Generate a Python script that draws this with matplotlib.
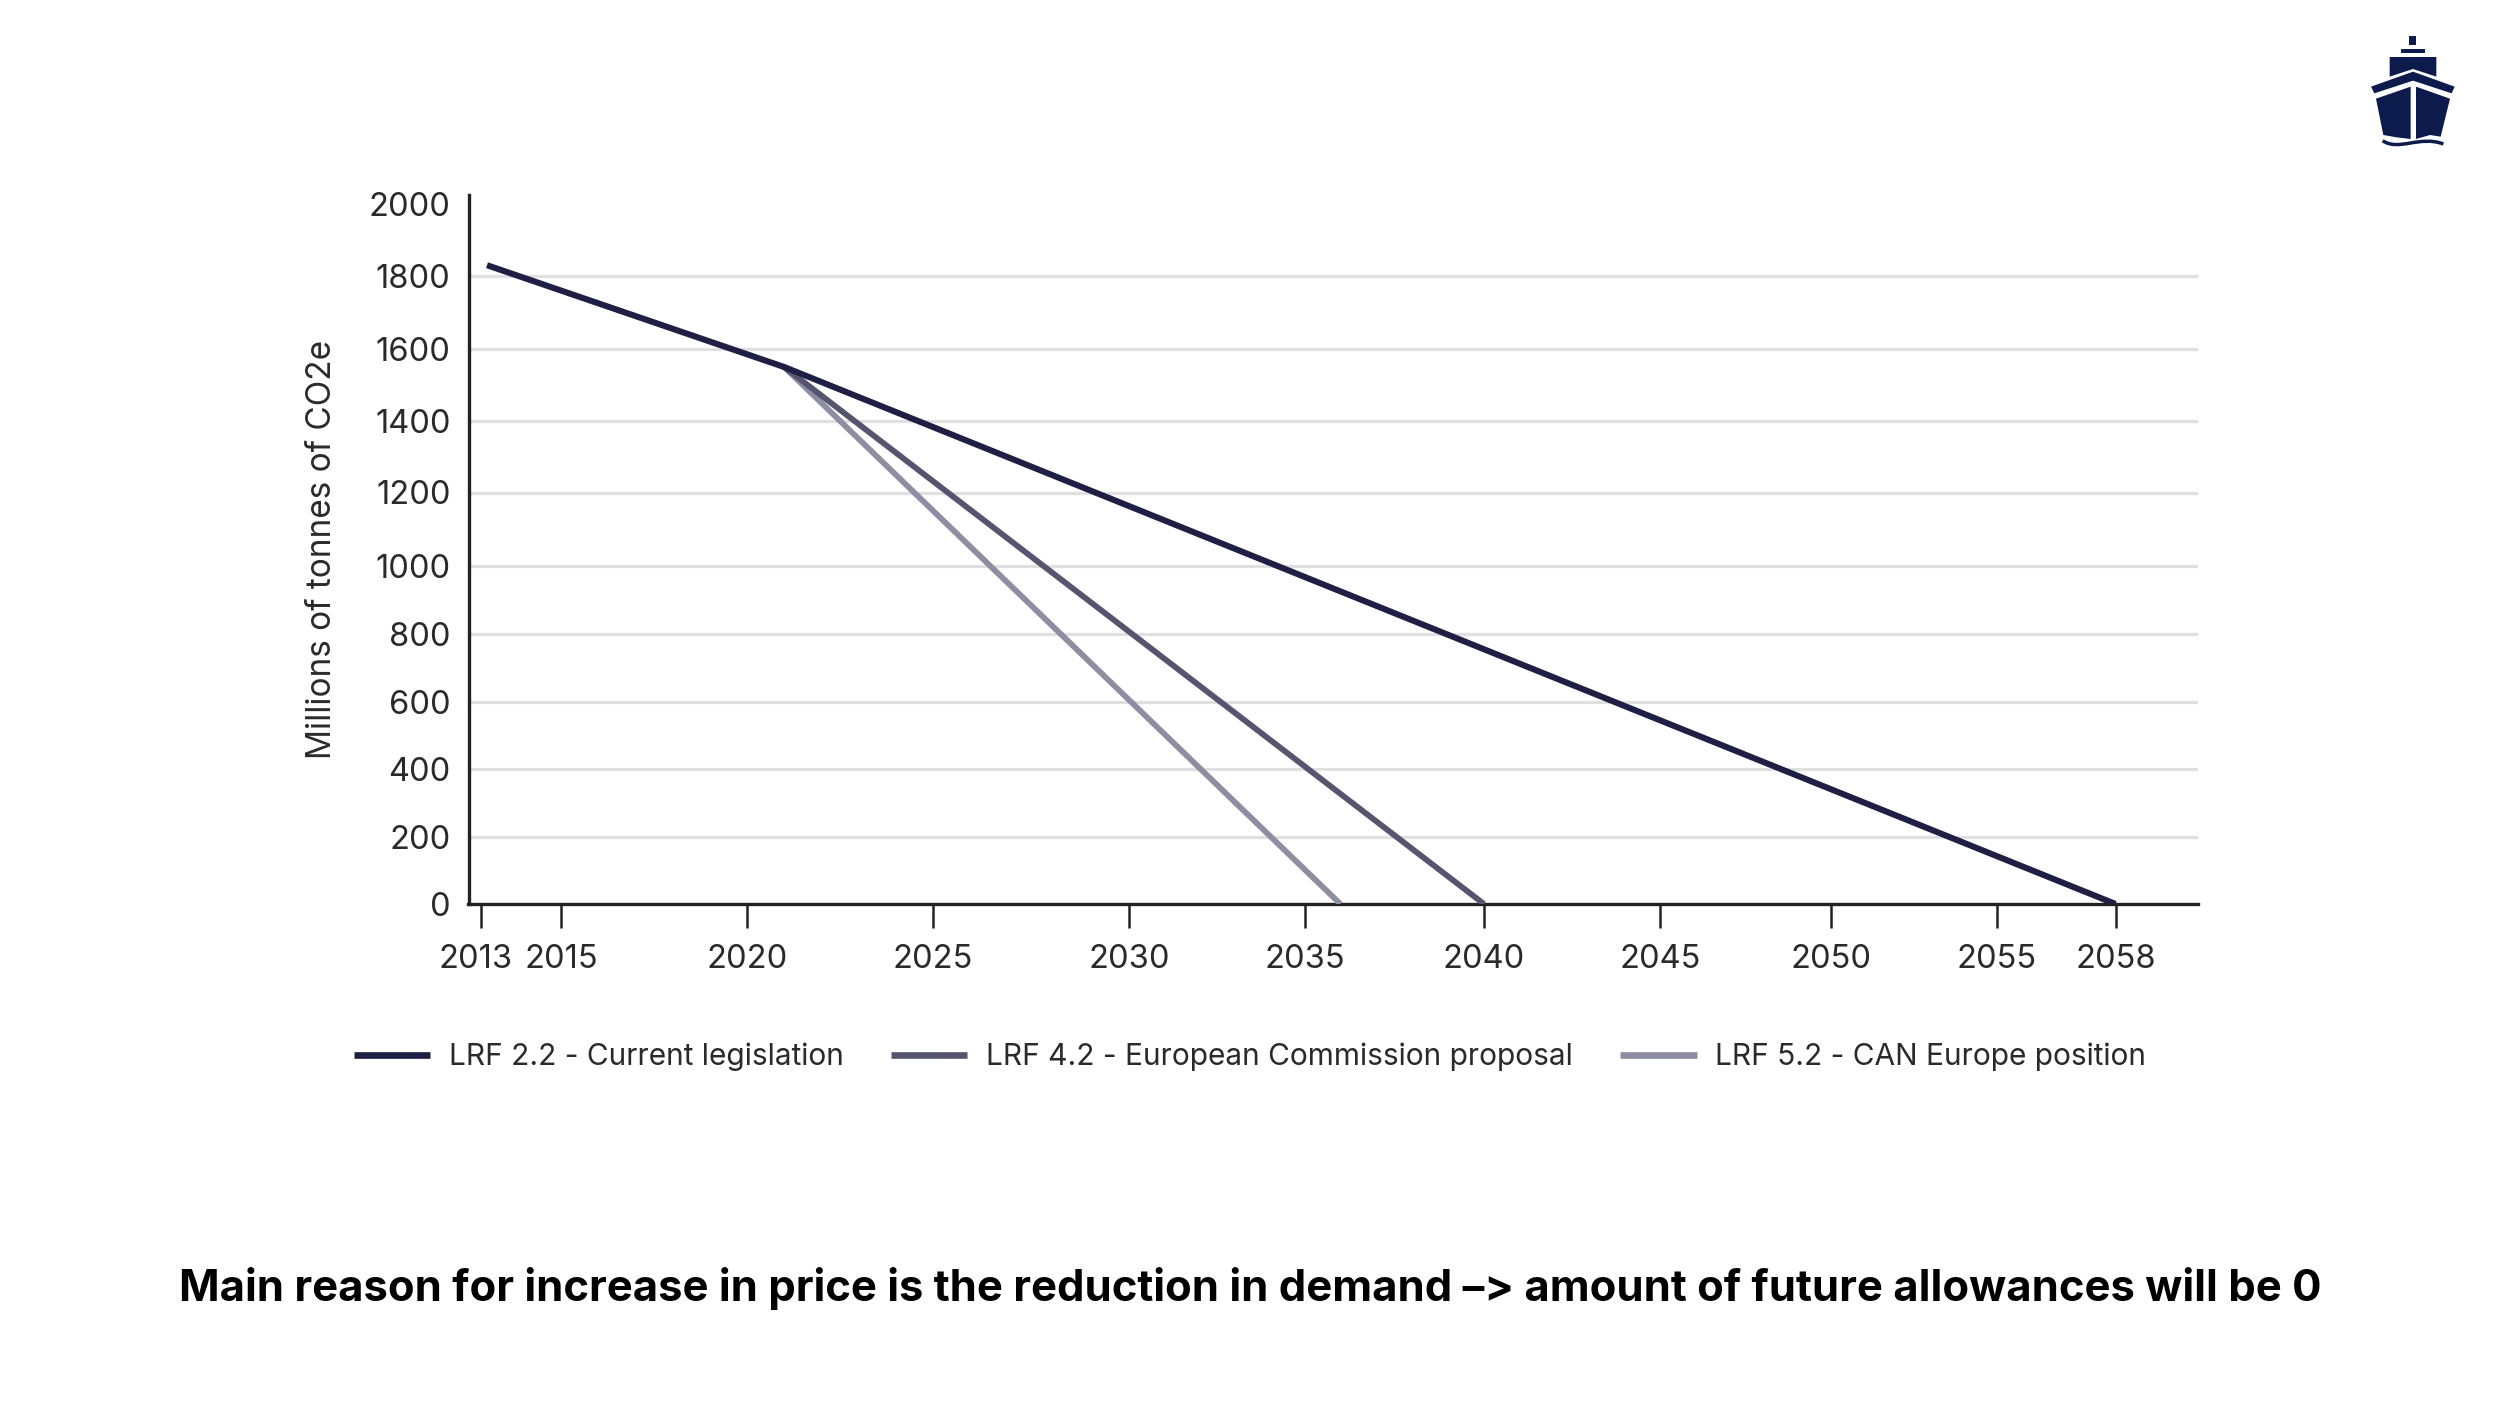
import numpy as np
import matplotlib
matplotlib.use('Agg')
import matplotlib.pyplot as plt
from matplotlib.patches import Polygon, PathPatch
from matplotlib.path import Path
from matplotlib.transforms import ScaledTranslation

# values
current_years = [2013.15, 2021, 2058]
current_vals = [1830, 1550, 0]
commission_years = [2021, 2040]
commission_vals = [1550, 0]
can_years = [2021, 2036]
can_vals = [1550, 0]

x_ticks = [2013, 2015, 2020, 2025, 2030, 2035, 2040, 2045, 2050, 2055, 2058]
y_ticks = [0, 200, 400, 600, 800, 1000, 1200, 1400, 1600, 1800, 2000]
grid_vals = [200, 400, 600, 800, 1000, 1200, 1400, 1600, 1800]

labels = ['LRF 2.2 - Current legislation',
          'LRF 4.2 - European Commission proposal',
          'LRF 5.2 - CAN Europe position']
colors = ['#1e1f45', '#55556f', '#8e8ea3']

# the source image has uneven axis spacing, so both scales are piecewise
x_cal = [2012.67, 2013, 2015, 2020, 2025, 2030, 2035, 2040, 2045, 2050, 2055, 2058, 2060.1]
x_px = [468.5, 481, 561, 747, 933, 1129, 1304.5, 1484, 1660, 1831, 1996.5, 2115.5, 2198]
y_cal = [0, 200, 400, 600, 800, 1000, 1200, 1400, 1600, 1800, 2000, 2028]
y_px = [904, 837, 769, 701.5, 633.5, 566, 492.5, 421, 349, 276, 204, 194.5]

W, H = 2500, 1406
plt.rcParams['font.family'] = ['Inter', 'DejaVu Sans']
text_color = '#2a2a2a'

fig = plt.figure(figsize=(W / 100, H / 100), dpi=100)
ax = fig.add_axes([x_px[0] / W, 1 - y_px[0] / H, (x_px[-1] - x_px[0]) / W, (y_px[0] - y_px[-1]) / H])

ax.set_xscale('function', functions=(lambda v: np.interp(v, x_cal, x_px),
                                     lambda v: np.interp(v, x_px, x_cal)))
ax.set_yscale('function', functions=(lambda v: np.interp(v, y_cal, -np.array(y_px)),
                                     lambda v: np.interp(v, -np.array(y_px), y_cal)))
ax.set_xlim(x_cal[0], x_cal[-1])
ax.set_ylim(y_cal[0], y_cal[-1])

ax.hlines(grid_vals, x_cal[0], x_cal[-1], color='#e0e0e0', lw=2.3, zorder=1)

ax.plot(can_years, can_vals, color=colors[2], lw=4.2, solid_capstyle='butt', zorder=3)
ax.plot(commission_years, commission_vals, color=colors[1], lw=4.2, solid_capstyle='butt', zorder=4)
ax.plot(current_years, current_vals, color=colors[0], lw=4.4, solid_capstyle='butt', zorder=5)

for s in ['top', 'right']:
    ax.spines[s].set_visible(False)
for s in ['left', 'bottom']:
    ax.spines[s].set_linewidth(2.4)
    ax.spines[s].set_color('#222222')

ax.set_xticks(x_ticks)
ax.set_xticklabels([str(y) for y in x_ticks])
ax.set_yticks(y_ticks)
ax.set_yticklabels([str(y) for y in y_ticks])
ax.minorticks_off()
ax.tick_params(axis='x', length=17, width=1.8, color='#222222', labelsize=23.5, labelcolor=text_color, pad=12)
ax.tick_params(axis='y', length=0, labelsize=23.5, labelcolor=text_color, pad=13)

# 2013 label is nudged left in the original so it clears 2015
lab = ax.get_xticklabels()[0]
lab.set_transform(lab.get_transform() + ScaledTranslation(-5 / 100, 0, fig.dpi_scale_trans))

ax.set_ylabel('Millions of tonnes of CO2e', fontsize=24, color=text_color)
ax.yaxis.set_label_coords((338 - x_px[0]) / (x_px[-1] - x_px[0]), 0.5)

handles = [plt.Line2D([], [], color=c, lw=4.8, solid_capstyle='butt') for c in colors]
fig.legend(handles, labels, ncol=3, frameon=False, loc='center', bbox_to_anchor=(1250 / W, 1 - 1057 / H),
           fontsize=21.5, labelcolor=text_color, handlelength=2.55, handletextpad=0.62, columnspacing=1.6)

fig.text(1250 / W, 1 - 1289 / H, 'Main reason for increase in price is the reduction in demand –> amount of future allowances will be 0',
         ha='center', va='center', fontsize=31.4, fontweight='bold', color='black')

# ship logo, top right, on a pixel-sized overlay
logo = fig.add_axes([0, 0, 1, 1], facecolor='none')
logo.set_xlim(0, W)
logo.set_ylim(H, 0)
logo.axis('off')

def pts(coords):
    return [(2340 + x / 3, 20 + y / 3) for x, y in coords]

navy = '#0d1b4c'
shapes = [
    [(208, 48), (229, 48), (229, 76), (208, 76)],
    [(184, 87), (254, 87), (254, 100), (184, 100)],
    [(149, 111), (289, 111), (289, 170), (219, 147), (149, 170)],
    [(93, 200), (219, 155), (344, 200), (335, 220), (219, 182), (103, 220)],
    [(108, 236), (212, 200), (212, 357), (170, 352), (130, 345)],
    [(228, 200), (330, 236), (302, 350), (270, 345), (228, 357)],
]
for s in shapes:
    logo.add_patch(Polygon(pts(s), closed=True, fc=navy, ec='none'))
wave = Path(pts([(128, 362), (175, 395), (240, 345), (310, 372)]),
            [Path.MOVETO, Path.CURVE4, Path.CURVE4, Path.CURVE4])
logo.add_patch(PathPatch(wave, fc='none', ec=navy, lw=2.5))

fig.savefig('out.png', dpi=100)
